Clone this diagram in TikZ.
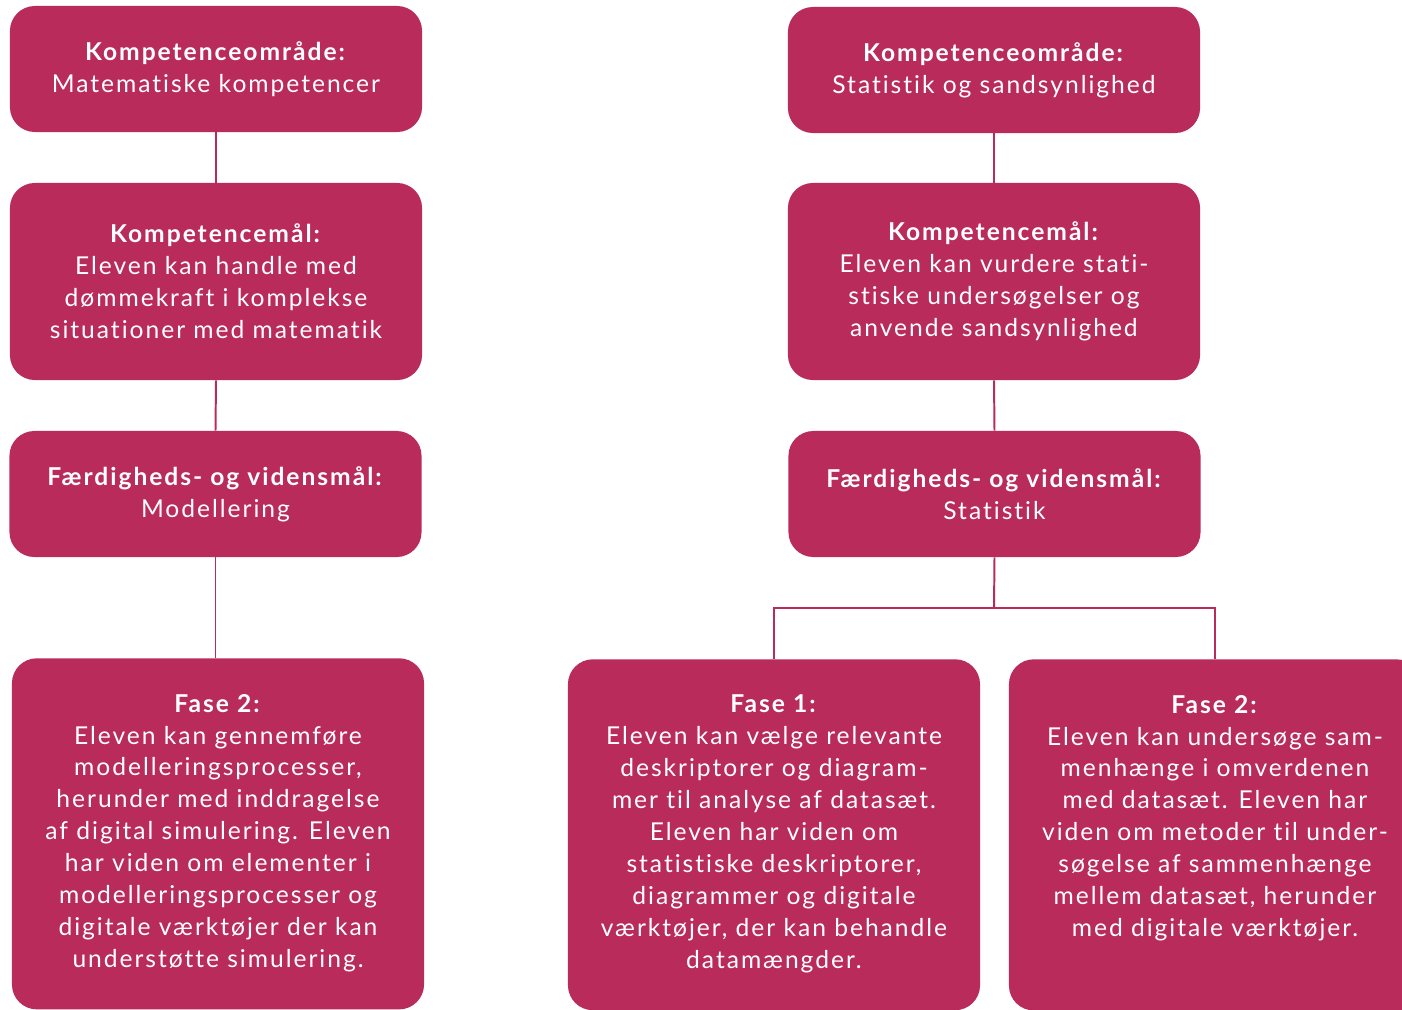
\documentclass[tikz,border=0pt]{standalone}
\usepackage{fontspec}
\setmainfont[LetterSpace=8, Ligatures=NoCommon]{Lato}
\usetikzlibrary{positioning}
\definecolor{fasered}{HTML}{B92B5A}

\tikzset{
  box/.style={fill=fasered, text=white, rounded corners=17.7pt, align=center,
    minimum width=10.3cm, inner sep=0pt, font=\fontsize{17.5}{22.7}\selectfont},
  smallbox/.style={box, minimum height=3.15cm},
  tallbox/.style={box, minimum height=4.925cm},
  fasebox/.style={box, anchor=north, inner ysep=25.5pt, text depth=#1},
  fasebox/.default=0.15cm,
  link/.style={draw=fasered, line width=1.4pt}
}

\begin{document}
\begin{tikzpicture}[x=0.025cm, y=-0.025cm]
    \useasboundingbox (0,0) rectangle (1402,1009);
    \clip (0,0) rectangle (1402,1009);

    % Left column
    \node[smallbox] (omraadeL) at (216,69) {\textbf{Kompetenceområde:}\\Matematiske kompetencer};
    \node[tallbox] (maalL) at (216,281.5) {\textbf{Kompetencemål:}\\Eleven kan handle med\\dømmekraft i komplekse\\situationer med matematik};
    \node[smallbox] (videnL) at (215.5,494) {\textbf{Færdigheds- og vidensmål:}\\Modellering};
    \node[fasebox] (faseL) at (218,658) {\textbf{Fase 2:}\\Eleven kan gennemføre\\modelleringsprocesser,\\herunder med inddragelse\\af digital simulering. Eleven\\har viden om elementer i\\modelleringsprocesser og\\digitale værktøjer der kan\\understøtte simulering.};

    % Right column
    \node[smallbox] (omraadeR) at (994,70) {\textbf{Kompetenceområde:}\\Statistik og sandsynlighed};
    \node[tallbox] (maalR) at (994,281.5) {\textbf{Kompetencemål:}\\Eleven kan vurdere stati-\\stiske undersøgelser og\\anvende sandsynlighed};
    \node[smallbox] (videnR) at (994.5,494) {\textbf{Færdigheds- og vidensmål:}\\Statistik};
    \node[fasebox] (faseR1) at (774,659) {\textbf{Fase 1:}\\Eleven kan vælge relevante\\deskriptorer og diagram-\\mer til analyse af datasæt.\\Eleven har viden om\\statistiske deskriptorer,\\diagrammer og digitale\\værktøjer, der kan behandle\\datamængder.};
    \node[fasebox=0.95cm] (faseR2) at (1215,659) {\textbf{Fase 2:}\\Eleven kan undersøge sam-\\menhænge i omverdenen\\med datasæt. Eleven har\\viden om metoder til under-\\søgelse af sammenhænge\\mellem datasæt, herunder\\med digitale værktøjer.};

    % Connectors
    \draw[link] (omraadeL.south) -- (maalL.north);
    \draw[link] (maalL.south) -- (videnL.north);
    \draw[link] (videnL.south) -- (videnL.south |- faseL.north);
    \draw[link] (omraadeR.south) -- (maalR.north);
    \draw[link] (maalR.south) -- (videnR.north);
    \coordinate (split) at (994,608);
    \draw[link] (videnR.south) -- (split);
    \draw[link] (faseR1.north) |- (split) -| (faseR2.north);
\end{tikzpicture}
\end{document}
